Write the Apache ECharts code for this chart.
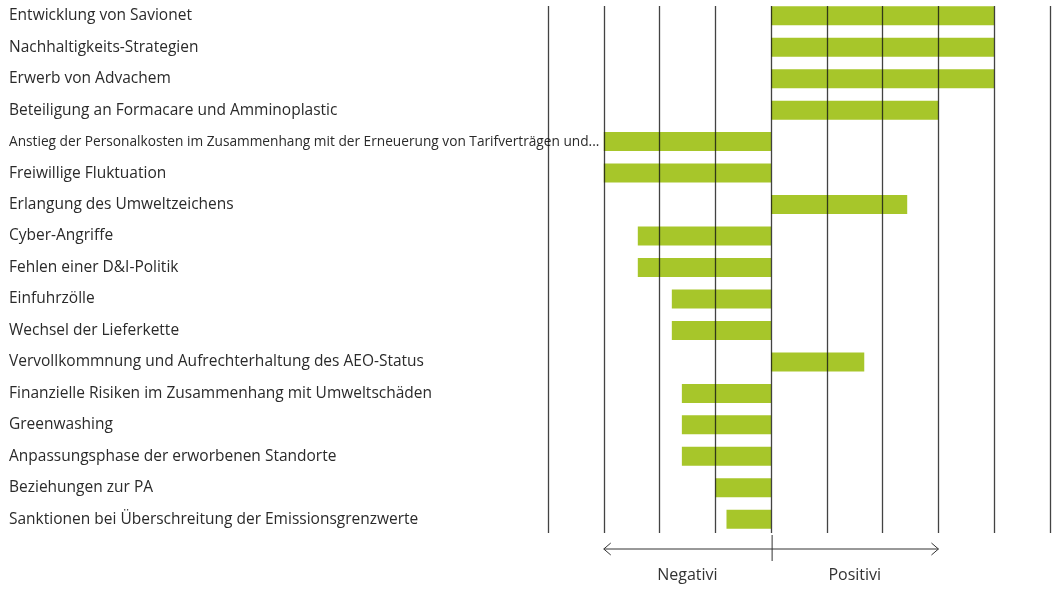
<!DOCTYPE html>
<html lang="de">
<head>
<meta charset="utf-8" />
<title>Themen</title>
<script src="https://cdn.jsdelivr.net/npm/echarts@6/dist/echarts.min.js"></script>
<style>
  html, body { margin: 0; padding: 0; background: #fff; }
</style>
</head>
<body>
<div id="main" style="width: 1052px;height:590px;"></div>
<script>
    var categories = [
        'Entwicklung von Savionet',
        'Nachhaltigkeits-Strategien',
        'Erwerb von Advachem',
        'Beteiligung an Formacare und Amminoplastic',
        'Anstieg der Personalkosten im Zusammenhang mit der Erneuerung von Tarifverträgen und...',
        'Freiwillige Fluktuation',
        'Erlangung des Umweltzeichens',
        'Cyber-Angriffe',
        'Fehlen einer D&I-Politik',
        'Einfuhrzölle',
        'Wechsel der Lieferkette',
        'Vervollkommnung und Aufrechterhaltung des AEO-Status',
        'Finanzielle Risiken im Zusammenhang mit Umweltschäden',
        'Greenwashing',
        'Anpassungsphase der erworbenen Standorte',
        'Beziehungen zur PA',
        'Sanktionen bei Überschreitung der Emissionsgrenzwerte'
    ];
    var values = [4, 4, 4, 3, -3, -3, 2.44, -2.39, -2.39, -1.78, -1.78, 1.67, -1.6, -1.6, -1.6, -1, -0.8];
    var axisMin = -4, axisMax = 5;
    var sideLabels = ['Negativi', 'Positivi'];
    var arrowRange = [-3, 3];

    var myChart = echarts.init(document.getElementById('main'));
    var font = '"Open Sans", Lato, sans-serif';

    var option = {
        animation: false,
        grid: [
            { left: 548, right: 2, top: 6, bottom: 57 },
            { left: 548, right: 2, top: 0, bottom: 55 }
        ],
        xAxis: [{
            gridIndex: 0, type: 'value', min: axisMin, max: axisMax, interval: 1, z: 5,
            axisLine: { show: false }, axisTick: { show: false }, axisLabel: { show: false },
            splitLine: { show: true, lineStyle: { color: 'rgba(20,20,20,0.8)', width: 1.3 } }
        }, {
            gridIndex: 1, type: 'value', min: axisMin, max: axisMax, interval: 1,
            axisLine: { show: false }, axisTick: { show: false }, axisLabel: { show: false },
            splitLine: { show: false }
        }],
        yAxis: [{
            gridIndex: 0, type: 'value', show: false
        }, {
            gridIndex: 1, type: 'category', data: categories, inverse: true,
            axisLine: { show: false }, axisTick: { show: false },
            axisLabel: {
                margin: 539, align: 'left', color: '#2a2a2a', fontFamily: font, fontSize: 15.5,
                formatter: function (v) {
                    return v.length > 70 ? '{s|' + v + '}' : v;
                },
                rich: { s: { fontSize: 13.7, fontFamily: font, color: '#2a2a2a' } }
            }
        }],
        series: [{
            type: 'bar', xAxisIndex: 1, yAxisIndex: 1, data: values,
            barWidth: 19, itemStyle: { color: '#a7c62a' }
        }]
    };
    myChart.setOption(option);

    // annotation below the chart, placed through the axis scale
    var xl = myChart.convertToPixel({ xAxisIndex: 1 }, arrowRange[0]);
    var x0 = myChart.convertToPixel({ xAxisIndex: 1 }, 0);
    var xr = myChart.convertToPixel({ xAxisIndex: 1 }, arrowRange[1]);
    var ay = 549;
    var stroke = { stroke: '#333', lineWidth: 1 };
    myChart.setOption({
        graphic: [
            { type: 'line', shape: { x1: xl, y1: ay, x2: xr, y2: ay }, style: stroke },
            { type: 'polyline', shape: { points: [[xl + 7, ay - 6], [xl, ay], [xl + 7, ay + 6]] }, style: stroke },
            { type: 'polyline', shape: { points: [[xr - 7, ay - 6], [xr, ay], [xr - 7, ay + 6]] }, style: stroke },
            { type: 'line', shape: { x1: x0 + 1, y1: 535, x2: x0 + 1, y2: 561 }, style: stroke },
            { type: 'text', x: (xl + x0) / 2, y: 575, style: { text: sideLabels[0], font: '16px ' + font, fill: '#333', textAlign: 'center', textVerticalAlign: 'middle' } },
            { type: 'text', x: (xr + x0) / 2, y: 575, style: { text: sideLabels[1], font: '16px ' + font, fill: '#333', textAlign: 'center', textVerticalAlign: 'middle' } }
        ]
    });
</script>
</body>
</html>
